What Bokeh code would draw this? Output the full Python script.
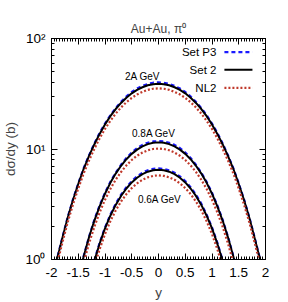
from bokeh.plotting import figure
from bokeh.models import Range1d, FixedTicker, LogAxis, LinearAxis, Label, Arrow, ColumnDataSource
from bokeh.embed import file_html
from bokeh.resources import INLINE

# ---------------- data ----------------
y_2A = [-2.0, -1.9, -1.8, -1.7, -1.6, -1.5, -1.4, -1.3, -1.2, -1.1, -1.0, -0.9, -0.8, -0.7, -0.6, -0.5,
        -0.4, -0.3, -0.2, -0.1, 0.0, 0.1, 0.2, 0.3, 0.4, 0.5, 0.6, 0.7, 0.8, 0.9, 1.0, 1.1, 1.2, 1.3,
        1.4, 1.5, 1.6, 1.7, 1.8, 1.9, 2.0]
p3_2A = [0.61, 1.0, 1.56, 2.39, 3.48, 4.88, 6.68, 8.75, 11.2, 14.0, 17.0, 20.2, 23.5, 26.7, 29.9, 32.8,
         35.3, 37.3, 38.8, 39.8, 40.1, 39.8, 38.8, 37.3, 35.3, 32.8, 29.9, 26.7, 23.5, 20.2, 17.0, 14.0,
         11.2, 8.75, 6.68, 4.88, 3.48, 2.39, 1.56, 1.0, 0.61]
s2_2A = [0.605, 0.99, 1.54, 2.36, 3.44, 4.82, 6.59, 8.62, 11.0, 13.7, 16.7, 19.8, 23.0, 26.1, 29.1, 31.9,
         34.3, 36.2, 37.7, 38.6, 38.9, 38.6, 37.7, 36.2, 34.3, 31.9, 29.1, 26.1, 23.0, 19.8, 16.7, 13.7,
         11.0, 8.62, 6.59, 4.82, 3.44, 2.36, 1.54, 0.99, 0.605]
nl2_2A = [0.55, 0.90, 1.40, 2.15, 3.13, 4.39, 6.00, 7.84, 10.0, 12.5, 15.2, 18.0, 20.9, 23.8, 26.5, 29.0,
          31.2, 32.9, 34.3, 35.1, 35.4, 35.1, 34.3, 32.9, 31.2, 29.0, 26.5, 23.8, 20.9, 18.0, 15.2, 12.5,
          10.0, 7.84, 6.00, 4.39, 3.13, 2.15, 1.40, 0.90, 0.55]

y_08 = [-1.5, -1.4, -1.3, -1.2, -1.1, -1.0, -0.9, -0.8, -0.7, -0.6, -0.5, -0.4, -0.3, -0.2, -0.1, 0.0,
        0.1, 0.2, 0.3, 0.4, 0.5, 0.6, 0.7, 0.8, 0.9, 1.0, 1.1, 1.2, 1.3, 1.4, 1.5]
p3_08 = [0.69, 1.07, 1.60, 2.28, 3.09, 4.02, 5.04, 6.1, 7.2, 8.3, 9.3, 10.2, 10.9, 11.4, 11.7, 11.8,
         11.7, 11.4, 10.9, 10.2, 9.3, 8.3, 7.2, 6.1, 5.04, 4.02, 3.09, 2.28, 1.60, 1.07, 0.69]
s2_08 = [0.68, 1.06, 1.58, 2.24, 3.03, 3.94, 4.94, 5.99, 7.05, 8.08, 9.03, 9.87, 10.56, 11.07, 11.38, 11.48,
         11.38, 11.07, 10.56, 9.87, 9.03, 8.08, 7.05, 5.99, 4.94, 3.94, 3.03, 2.24, 1.58, 1.06, 0.68]
nl2_08 = [0.60, 0.93, 1.39, 1.97, 2.67, 3.47, 4.35, 5.27, 6.20, 7.11, 7.95, 8.69, 9.29, 9.74, 10.0, 10.1,
          10.0, 9.74, 9.29, 8.69, 7.95, 7.11, 6.20, 5.27, 4.35, 3.47, 2.67, 1.97, 1.39, 0.93, 0.60]

y_06 = [-1.3, -1.2, -1.1, -1.0, -0.9, -0.8, -0.7, -0.6, -0.5, -0.4, -0.3, -0.2, -0.1, 0.0,
        0.1, 0.2, 0.3, 0.4, 0.5, 0.6, 0.7, 0.8, 0.9, 1.0, 1.1, 1.2, 1.3]
p3_06 = [0.64, 0.98, 1.42, 1.95, 2.55, 3.20, 3.86, 4.52, 5.13, 5.65, 6.10, 6.42, 6.61, 6.68,
         6.61, 6.42, 6.10, 5.65, 5.13, 4.52, 3.86, 3.20, 2.55, 1.95, 1.42, 0.98, 0.64]
s2_06 = [0.63, 0.97, 1.39, 1.91, 2.49, 3.12, 3.76, 4.39, 4.98, 5.49, 5.92, 6.23, 6.42, 6.49,
         6.42, 6.23, 5.92, 5.49, 4.98, 4.39, 3.76, 3.12, 2.49, 1.91, 1.39, 0.97, 0.63]
nl2_06 = [0.56, 0.86, 1.24, 1.70, 2.22, 2.78, 3.35, 3.91, 4.43, 4.89, 5.27, 5.54, 5.71, 5.78,
          5.71, 5.54, 5.27, 4.89, 4.43, 3.91, 3.35, 2.78, 2.22, 1.70, 1.24, 0.86, 0.56]

series_names = ["Set P3", "Set 2", "NL2"]
energy_labels = ["2A GeV", "0.8A GeV", "0.6A GeV"]

x_ticks = [-2, -1.5, -1, -0.5, 0, 0.5, 1, 1.5, 2]
x_tick_labels = ["-2", "-1.5", "-1", "-0.5", "0", "0.5", "1", "1.5", "2"]
y_ticks = [1, 10, 100]
y_tick_labels = ["10\u2070", "10\u00b9", "10\u00b2"]

title_text = "Au+Au, \u03c0\u2070"
x_label = "y"
y_label = "d\u03c3/dy (b)"

# ---------------- styles ----------------
FONT = "Liberation Sans"
BLUE = "#1a1aff"
RED = "#c0392b"
styles = {
    "Set P3": dict(line_color=BLUE, line_width=2.2, line_dash="4 3"),
    "Set 2": dict(line_color="black", line_width=2.0),
    "NL2": dict(line_color=RED, line_width=2.2, line_dash="2 2"),
}

p = figure(frame_width=214, frame_height=221, x_range=Range1d(-2, 2), y_range=Range1d(1, 100),
           y_axis_type="log", output_backend="svg", toolbar_location=None,
           min_border_left=49, min_border_right=17, min_border_top=38, min_border_bottom=40,
           background_fill_color="white", border_fill_color="white")
p.grid.visible = False
p.outline_line_color = "black"
p.outline_line_width = 1

p.title.text = title_text
p.title.align = "center"
p.title.text_font = FONT
p.title.text_font_size = "12px"
p.title.text_font_style = "normal"
p.title.standoff = 5

minor_x = [round(-2 + 0.05 * i, 2) for i in range(81)]
minor_y = [m * d for d in (1, 10) for m in range(2, 10)]

def style_axis(ax, show_labels):
    ax.axis_line_color = "black"
    ax.axis_line_width = 1
    ax.major_tick_in = 6
    ax.major_tick_out = 0
    ax.minor_tick_in = 3
    ax.minor_tick_out = 0
    ax.major_tick_line_color = "black"
    ax.minor_tick_line_color = "black"
    ax.major_label_text_font = FONT
    ax.axis_label_text_font = FONT
    ax.axis_label_text_font_style = "normal"
    ax.axis_label_text_font_size = "13.5px"
    if show_labels:
        ax.major_label_text_font_size = "13.5px"
        ax.major_label_text_color = "black"
    else:
        ax.major_label_text_font_size = "6px"
        ax.major_label_text_color = None
        ax.major_label_standoff = 0

xt = FixedTicker(ticks=x_ticks, minor_ticks=minor_x)
yt = FixedTicker(ticks=y_ticks, minor_ticks=minor_y)

xa = p.xaxis[0]
xa.ticker = xt
xa.major_label_overrides = {t: l for t, l in zip(x_ticks, x_tick_labels)}
style_axis(xa, True)
xa.major_label_standoff = 8
xa.axis_label = x_label
xa.axis_label_standoff = 5

ya = p.yaxis[0]
ya.ticker = yt
ya.major_label_overrides = {t: l for t, l in zip(y_ticks, y_tick_labels)}
style_axis(ya, True)
ya.major_label_standoff = 6
ya.axis_label = y_label
ya.axis_label_standoff = 4

top = LinearAxis(ticker=FixedTicker(ticks=x_ticks, minor_ticks=minor_x))
style_axis(top, False)
p.add_layout(top, "above")
right = LogAxis(ticker=FixedTicker(ticks=y_ticks, minor_ticks=minor_y))
style_axis(right, False)
p.add_layout(right, "right")

# ---------------- curves ----------------
groups = [
    (y_2A, [p3_2A, s2_2A, nl2_2A]),
    (y_08, [p3_08, s2_08, nl2_08]),
    (y_06, [p3_06, s2_06, nl2_06]),
]
for name_idx, name in enumerate(series_names):
    for ys, vals in groups:
        src = ColumnDataSource(dict(x=ys, v=vals[name_idx]))
        p.line("x", "v", source=src, **styles[name])

# ---------------- energy labels ----------------
label_pos = [(-0.30, 45.3), (-0.09, 13.9), (0.02, 3.47)]
for txt, (lx, ly) in zip(energy_labels, label_pos):
    p.add_layout(Label(x=lx, y=ly, text=txt, text_align="center", text_baseline="middle",
                       text_font=FONT, text_font_size="10px", text_color="black"))

# ---------------- legend (gnuplot style: text then sample) ----------------
leg_y = [75.2, 52.2, 35.8]
for name, ly in zip(series_names, leg_y):
    p.add_layout(Label(x=1.083, y=ly, text=name, text_align="right", text_baseline="middle",
                       text_font=FONT, text_font_size="11.5px", text_color="black"))
    st = styles[name]
    p.add_layout(Arrow(end=None, x_start=1.232, y_start=ly, x_end=1.756, y_end=ly,
                       line_color=st["line_color"], line_width=st["line_width"],
                       line_dash=st.get("line_dash", "solid")))

open("out.html", "w").write(file_html(p, INLINE))
